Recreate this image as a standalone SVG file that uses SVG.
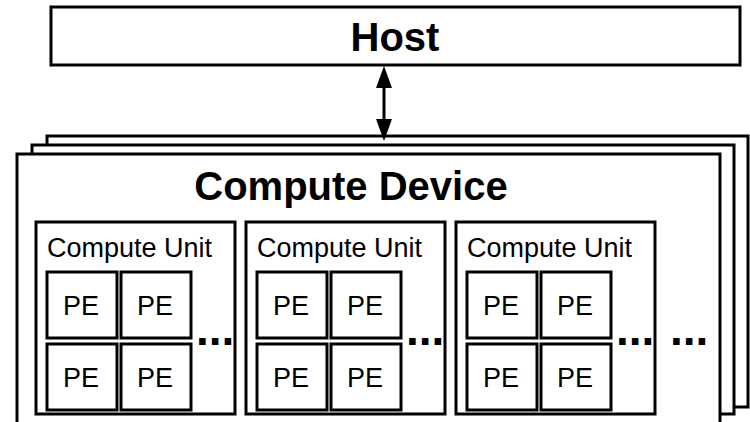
<svg xmlns="http://www.w3.org/2000/svg" width="750" height="422" viewBox="0 0 750 422">
  <style>
    .box { fill: #fff; stroke: #000; stroke-width: 3; }
    .title { font-family: "Liberation Sans", Arial, sans-serif; font-weight: bold; font-size: 40px; fill: #000; }
    .cu { font-family: "Liberation Sans", Arial, sans-serif; font-size: 27px; fill: #000; }
    .pe { font-family: "Liberation Sans", Arial, sans-serif; font-size: 27px; fill: #000; text-anchor: middle; }
    .dots { font-family: "Liberation Sans", Arial, sans-serif; font-weight: bold; font-size: 46px; fill: #000; }
    .link { stroke: #000; stroke-width: 3; fill: none; }
  </style>
  <defs>
    <g id="pe">
      <rect class="box" x="0" y="0" width="70" height="66"/>
      <text class="pe" x="34" y="43">PE</text>
    </g>
    <g id="unit">
      <rect class="box" x="0" y="0" width="199" height="192"/>
      <text class="cu" x="11" y="35">Compute Unit</text>
      <use href="#pe" x="11" y="50"/>
      <use href="#pe" x="85" y="50"/>
      <use href="#pe" x="11" y="122"/>
      <use href="#pe" x="85" y="122"/>
      <text class="dots" x="160" y="123">...</text>
    </g>
  </defs>

  <!-- host -->
  <g id="host">
    <rect class="box" x="51" y="7" width="689" height="58"/>
    <text class="title" x="395" y="51" text-anchor="middle">Host</text>
  </g>

  <!-- stacked device frames -->
  <g id="device-back">
    <rect class="box" x="47" y="136" width="701" height="271"/>
  </g>
  <g id="device-middle">
    <rect class="box" x="32" y="145" width="702" height="269"/>
  </g>
  <g id="device">
    <rect class="box" x="17" y="154" width="703" height="290"/>
    <text class="title" x="351" y="200" text-anchor="middle">Compute Device</text>
    <g id="unit-1"><use href="#unit" x="36" y="222"/></g>
    <g id="unit-2"><use href="#unit" x="246" y="222"/></g>
    <g id="unit-3"><use href="#unit" x="456" y="222"/></g>
    <text class="dots" x="670" y="345">...</text>
  </g>

  <!-- host <-> device link -->
  <g id="connectors">
    <line class="link" x1="384" y1="87" x2="384" y2="120"/>
    <path d="M384,66 L376,88 L392,88 Z" fill="#000"/>
    <path d="M384,141 L376,119 L392,119 Z" fill="#000"/>
  </g>
</svg>
